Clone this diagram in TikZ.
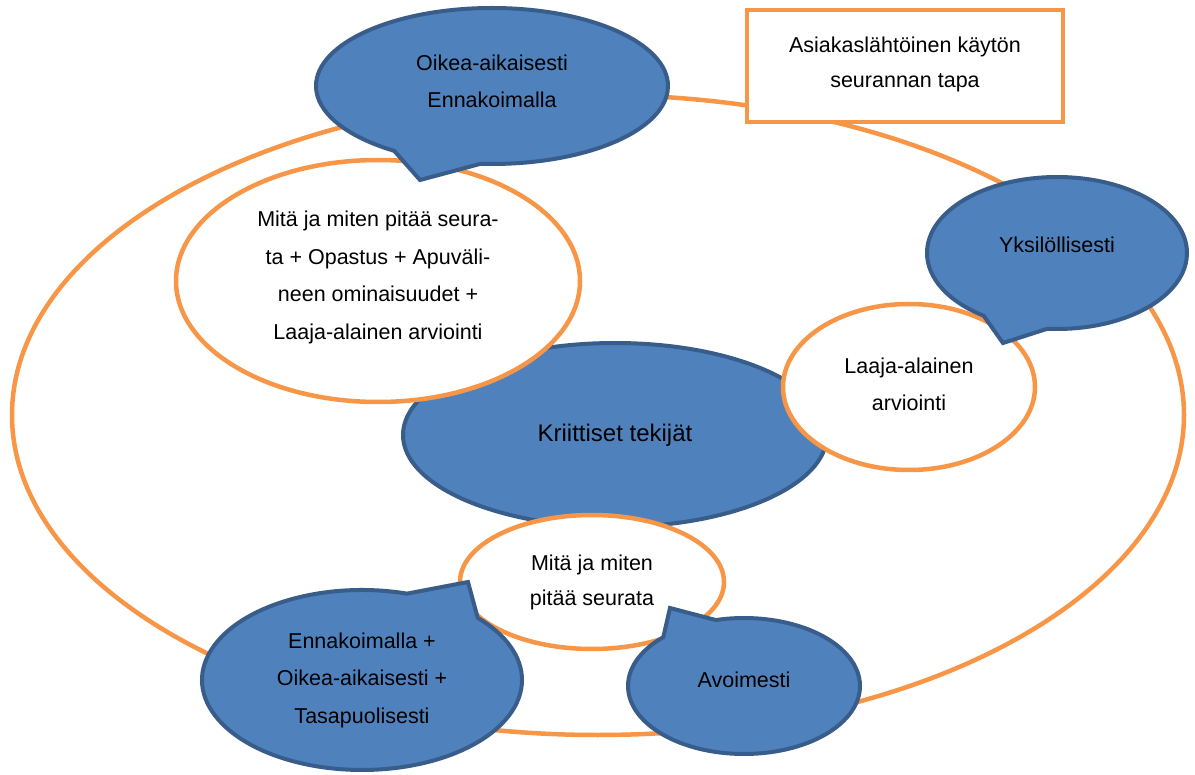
\documentclass[tikz,border=0pt]{standalone}
\usepackage{fontspec}
\setmainfont{Liberation Sans}
\usetikzlibrary{shapes.geometric,shapes.callouts}
\definecolor{ringorange}{HTML}{F79646}
\definecolor{bubblefill}{HTML}{4F81BD}
\definecolor{bubbleedge}{HTML}{385D8A}
\tikzset{
  ringline/.style={draw=ringorange, line width=4.5pt, ellipse, inner sep=0pt},
  whitering/.style={ringline, fill=white, align=center,
    font=\fontsize{21.5}{37.5}\selectfont},
  bubblebox/.style={ellipse callout, draw=bubbleedge, fill=bubblefill,
    line width=4pt, inner sep=0pt, align=center, callout pointer arc=30,
    font=\fontsize{21.5}{37.5}\selectfont},
  corebox/.style={ellipse, draw=bubbleedge, fill=bubblefill, line width=4pt,
    inner sep=0pt, font=\fontsize{24}{28}\selectfont},
  titlebox/.style={rectangle, draw=ringorange, fill=white, line width=4.5pt,
    align=center, font=\fontsize{21.5}{35}\selectfont},
  % extra depth below the text lifts it inside its shape
  lift/.style={text depth=#1}
}
\begin{document}
\begin{tikzpicture}[x=1pt,y=-1pt]
  \useasboundingbox (0,0) rectangle (1195,775);

  % outer cycle
  \node[ringline, minimum width=1172pt, minimum height=640pt] (outer) at (598,415) {};

  % heading box
  \node[titlebox, minimum width=316pt, minimum height=112pt, lift=8pt] (title) at (905,66)
    {Asiakaslähtöinen käytön\\seurannan tapa};

  % central element
  \node[corebox, minimum width=424pt, minimum height=184pt] (core) at (615,435)
    {Kriittiset tekijät};

  % white topic ellipses
  \node[whitering, minimum width=404pt, minimum height=242pt, lift=12pt] (topleft) at (378,281)
    {Mitä ja miten pitää seura-\\ta + Opastus + Apuväli-\\neen ominaisuudet +\\Laaja-alainen arviointi};
  \node[whitering, minimum width=252pt, minimum height=166pt, lift=6pt] (right) at (909,387)
    {Laaja-alainen\\arviointi};
  \node[whitering, minimum width=264pt, minimum height=134pt,
        font=\fontsize{21.5}{35}\selectfont] (bottom) at (592,582)
    {Mitä ja miten\\pitää seurata};

  % speech bubbles
  \node[bubblebox, minimum width=352pt, minimum height=156pt, lift=10pt,
        callout absolute pointer={(420,180)}] (oikea) at (492,86)
    {Oikea-aikaisesti\\Ennakoimalla};
  \node[bubblebox, minimum width=260pt, minimum height=152pt, lift=16pt,
        callout absolute pointer={(1003,343)}] (yksi) at (1057,253)
    {Yksilöllisesti};
  \node[bubblebox, minimum width=320pt, minimum height=180pt,
        callout absolute pointer={(468,582)}] (ennak) at (362,680)
    {Ennakoimalla +\\Oikea-aikaisesti +\\Tasapuolisesti};
  \node[bubblebox, minimum width=232pt, minimum height=136pt, lift=12pt,
        callout absolute pointer={(670,608)}] (avoin) at (744,686)
    {Avoimesti};
\end{tikzpicture}
\end{document}
